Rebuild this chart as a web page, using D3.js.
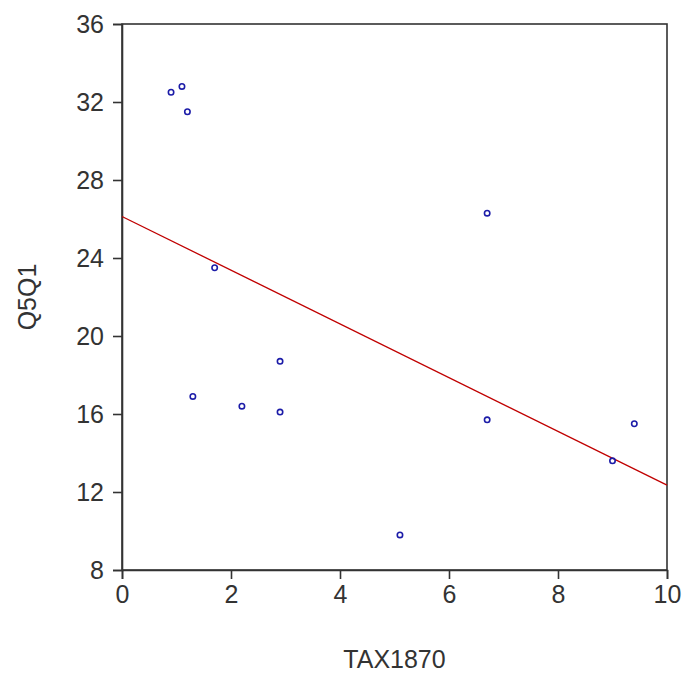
<!DOCTYPE html>
<html>
<head>
<meta charset="utf-8">
<script src="https://cdn.jsdelivr.net/npm/d3@7"></script>
<style>
  html, body { margin: 0; padding: 0; background: #fff; }
  text { font-family: "Liberation Sans", Arial, sans-serif; fill: #333; }
</style>
</head>
<body>
<svg id="chart" width="683" height="675"></svg>
<script>
const tax1870 = [0.9, 1.1, 1.2, 1.7, 1.3, 2.2, 2.9, 2.9, 6.7, 6.7, 5.1, 9.0, 9.4];
const q5q1    = [32.5, 32.8, 31.5, 23.5, 16.9, 16.4, 18.7, 16.1, 26.3, 15.7, 9.8, 13.6, 15.5];
const xTicks = [0, 2, 4, 6, 8, 10];
const yTicks = [8, 12, 16, 20, 24, 28, 32, 36];
const xTitle = "TAX1870";
const yTitle = "Q5Q1";

const margin = { left: 122, right: 16, top: 24, bottom: 105 };
const W = 683, H = 675;
const svg = d3.select("#chart");

const x = d3.scaleLinear().domain([0, 10]).range([margin.left, W - margin.right]);
const y = d3.scaleLinear().domain([8, 36]).range([H - margin.bottom, margin.top]);

// OLS fit
const mx = d3.mean(tax1870), my = d3.mean(q5q1);
let sxy = 0, sxx = 0;
tax1870.forEach((v, i) => { sxy += (v - mx) * (q5q1[i] - my); sxx += (v - mx) * (v - mx); });
const slope = sxy / sxx, intercept = my - slope * mx;

// frame
svg.append("rect")
  .attr("x", x(0)).attr("y", y(36))
  .attr("width", x(10) - x(0)).attr("height", y(8) - y(36))
  .attr("fill", "none").attr("stroke", "#333").attr("stroke-width", 1.6);

const fs = 25;
const xAxis = svg.append("g")
  .attr("transform", `translate(0,${y(8)})`)
  .call(d3.axisBottom(x).tickValues(xTicks).tickSize(9).tickPadding(6).tickFormat(d3.format("d")));
const yAxis = svg.append("g")
  .attr("transform", `translate(${x(0)},0)`)
  .call(d3.axisLeft(y).tickValues(yTicks).tickSize(9).tickPadding(9).tickFormat(d3.format("d")));
[xAxis, yAxis].forEach(g => {
  g.select(".domain").attr("stroke", "#333").attr("stroke-width", 1.6);
  g.selectAll(".tick line").attr("stroke", "#333").attr("stroke-width", 1.6);
  g.selectAll(".tick text").attr("font-size", fs).attr("fill", "#333")
    .attr("font-family", "'Liberation Sans', Arial, sans-serif");
});

// regression line
const fitX = [0, 10];
svg.append("line")
  .attr("x1", x(fitX[0])).attr("y1", y(intercept + slope * fitX[0]))
  .attr("x2", x(fitX[1])).attr("y2", y(intercept + slope * fitX[1]))
  .attr("stroke", "#c00000").attr("stroke-width", 1.3);

// points
svg.append("g").selectAll("circle")
  .data(tax1870.map((v, i) => [v, q5q1[i]]))
  .join("circle")
  .attr("cx", d => x(d[0])).attr("cy", d => y(d[1]))
  .attr("r", 2.7)
  .attr("fill", "none").attr("stroke", "#1c1ca8").attr("stroke-width", 1.6);

// titles
svg.append("text")
  .attr("x", (x(0) + x(10)) / 2).attr("y", 668)
  .attr("text-anchor", "middle").attr("font-size", fs)
  .text(xTitle);
svg.append("text")
  .attr("transform", `translate(36,${(y(8) + y(36)) / 2}) rotate(-90)`)
  .attr("text-anchor", "middle").attr("font-size", fs)
  .text(yTitle);
</script>
</body>
</html>
